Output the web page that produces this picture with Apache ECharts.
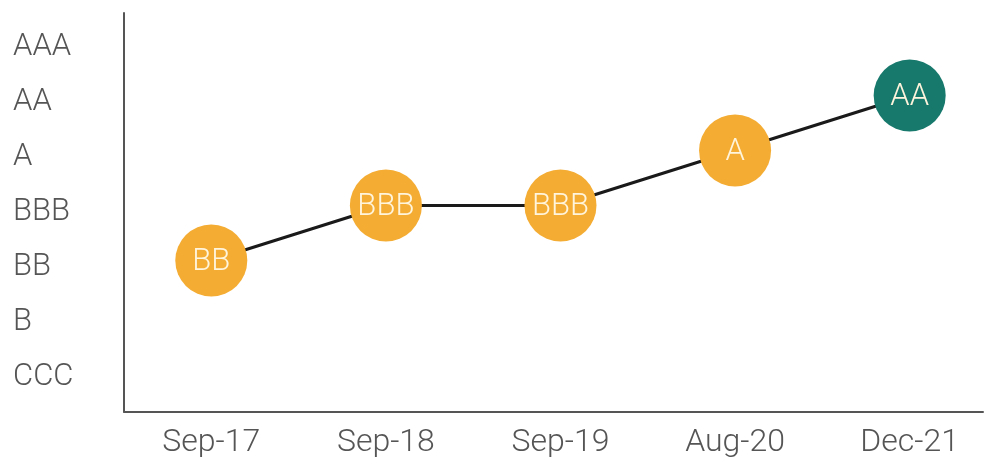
<!DOCTYPE html>
<html>
<head>
<meta charset="utf-8">
<script src="https://cdn.jsdelivr.net/npm/echarts@6/dist/echarts.min.js"></script>
<style>
html,body{margin:0;padding:0;background:#fff;}
#chart{width:986px;height:459px;}
</style>
</head>
<body>
<div id="chart"></div>
<script>
const categories = ['Sep-17', 'Sep-18', 'Sep-19', 'Aug-20', 'Dec-21'];
const ratingScale = ['CCC', 'B', 'BB', 'BBB', 'A', 'AA', 'AAA'];
const ratings = ['BB', 'BBB', 'BBB', 'A', 'AA'];

const ORANGE = '#F4AC32';
const TEAL = '#17786C';

const seriesData = ratings.map((r, i) => [i, ratingScale.indexOf(r) + 1]);
const isInt = v => Math.abs(v - Math.round(v)) < 1e-6;

const chart = echarts.init(document.getElementById('chart'));
chart.setOption({
  animation: false,
  backgroundColor: '#ffffff',
  grid: { left: 124, right: 0, top: 13, height: 398.75 },
  xAxis: {
    type: 'value',
    min: -0.5,
    max: 4.42,
    interval: 0.5,
    splitLine: { show: false },
    axisLine: { onZero: false, lineStyle: { color: '#555', width: 2 } },
    axisTick: { show: false },
    axisLabel: {
      color: '#555', fontFamily: 'Roboto', fontWeight: 300, fontSize: 32, margin: 15,
      showMinLabel: true, showMaxLabel: true,
      formatter: v => (isInt(v) && v >= 0 && v < categories.length) ? categories[Math.round(v)] : ''
    }
  },
  yAxis: {
    type: 'value',
    min: 0.25,
    max: 7.5,
    interval: 0.25,
    splitLine: { show: false },
    axisTick: { show: false },
    axisLine: { show: true, onZero: false, lineStyle: { color: '#555', width: 2 } },
    axisLabel: {
      color: '#555', fontFamily: 'Roboto', fontWeight: 300, fontSize: 31,
      align: 'left', margin: 111, verticalAlign: 'top', lineHeight: 14,
      formatter: v => (isInt(v) && v >= 1 && v <= ratingScale.length) ? ratingScale[Math.round(v) - 1] : ''
    }
  },
  series: [{
    type: 'line',
    data: seriesData,
    symbol: 'circle',
    symbolSize: 72,
    lineStyle: { color: '#1a1a1a', width: 3 },
    itemStyle: {
      color: p => p.dataIndex === categories.length - 1 ? TEAL : ORANGE,
      borderWidth: 0
    },
    label: {
      show: true,
      position: 'inside',
      offset: [0, 2],
      fontFamily: 'Roboto',
      fontWeight: 300,
      fontSize: 31,
      color: '#FFF4DC',
      formatter: p => ratings[p.dataIndex]
    },
    z: 3
  }]
});
</script>
</body>
</html>
